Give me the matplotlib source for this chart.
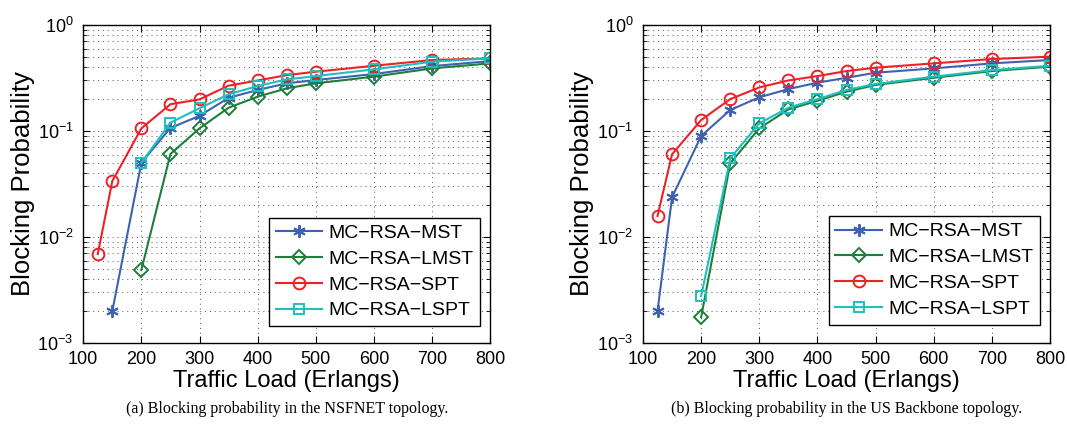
import matplotlib
matplotlib.use("Agg")
import matplotlib.pyplot as plt
import matplotlib.ticker as mticker
import numpy as np

# ── Data ──────────────────────────────────────────────────────────────────────
LOADS = [125, 150, 200, 250, 300, 350, 400, 450, 500, 600, 700, 800]

# (a) NSFNET
NSF_MST = [None, 0.0020, 0.0502, 0.107, 0.139, 0.206, 0.244, 0.282, 0.303, 0.345, 0.410, 0.457]
NSF_LMST = [None, None, 0.0049, 0.0607, 0.106, 0.166, 0.211, 0.253, 0.282, 0.326, 0.390, 0.435]
NSF_SPT = [0.0069, 0.0337, 0.106, 0.179, 0.199, 0.268, 0.300, 0.337, 0.363, 0.413, 0.468, 0.485]
NSF_LSPT = [None, None, 0.0502, 0.120, 0.164, 0.222, 0.266, 0.307, 0.330, 0.382, 0.451, 0.485]

# (b) US Backbone
USB_MST = [0.0020, 0.0237, 0.0897, 0.158, 0.208, 0.249, 0.286, 0.318, 0.355, 0.390, 0.435, 0.468]
USB_LMST = [None, None, 0.00175, 0.0495, 0.106, 0.160, 0.193, 0.235, 0.272, 0.318, 0.368, 0.405]
USB_SPT = [0.0158, 0.0603, 0.127, 0.200, 0.258, 0.300, 0.330, 0.368, 0.396, 0.435, 0.478, 0.503]
USB_LSPT = [None, None, 0.00277, 0.0552, 0.118, 0.166, 0.200, 0.244, 0.278, 0.326, 0.376, 0.413]

SERIES_NAMES = ["MC\u2212RSA\u2212MST", "MC\u2212RSA\u2212LMST", "MC\u2212RSA\u2212SPT", "MC\u2212RSA\u2212LSPT"]
CAPTIONS = ["(a) Blocking probability in the NSFNET topology.",
            "(b) Blocking probability in the US Backbone topology."]

# ── Style ─────────────────────────────────────────────────────────────────────
STYLES = [
    dict(color="#3e62b0", marker=(6, 2, 0), ms=9, mfc="#3e62b0"),
    dict(color="#1c7f3a", marker="D", ms=7, mfc="none"),
    dict(color="#ec2227", marker="o", ms=8.5, mfc="none"),
    dict(color="#20bfbf", marker="s", ms=7, mfc="none"),
]
plt.rcParams["font.family"] = ["Liberation Sans", "DejaVu Sans"]
plt.rcParams["mathtext.fontset"] = "custom"
plt.rcParams["mathtext.rm"] = "Liberation Sans"


def draw_panel(ax, data, legend_anchor):
    for vals, name, st in zip(data, SERIES_NAMES, STYLES):
        xs = [x for x, v in zip(LOADS, vals) if v is not None]
        ys = [v for v in vals if v is not None]
        ax.plot(xs, ys, label=name, lw=1.5, color=st["color"], marker=st["marker"],
                markersize=st["ms"], markerfacecolor=st["mfc"],
                markeredgecolor=st["color"], markeredgewidth=1.4)
    ax.set_yscale("log")
    ax.set_ylim(1e-3, 1)
    ax.set_xlim(100, 800)
    ax.set_xticks(np.arange(100, 801, 100))
    ax.yaxis.set_major_locator(mticker.LogLocator(base=10, numticks=10))
    ax.yaxis.set_minor_locator(mticker.LogLocator(base=10, subs=np.arange(2, 10), numticks=10))
    ax.yaxis.set_minor_formatter(mticker.NullFormatter())
    ax.grid(True, which="major", linestyle=(0, (1, 4)), color="#555555", lw=0.7)
    ax.grid(True, which="minor", axis="y", linestyle=(0, (1, 4)), color="#555555", lw=0.7)
    ax.tick_params(which="both", direction="in", top=True, right=True, labelsize=13)
    ax.tick_params(which="major", length=5)
    ax.tick_params(which="minor", length=3)
    ax.tick_params(axis="x", pad=6)
    ax.tick_params(axis="y", pad=7)
    ax.set_xlabel("Traffic Load (Erlangs)", fontsize=17, labelpad=1)
    ax.set_ylabel("Blocking Probability", fontsize=18.5, labelpad=2)
    for s in ax.spines.values():
        s.set_linewidth(1.0)
    leg = ax.legend(loc="lower right", bbox_to_anchor=legend_anchor, fontsize=14,
                    fancybox=False, framealpha=1, edgecolor="black",
                    handlelength=2.4, handletextpad=0.3, borderpad=0.35,
                    labelspacing=0.42, borderaxespad=0)
    leg.get_frame().set_linewidth(1.0)


fig = plt.figure(figsize=(10.67, 4.32), dpi=100)
ax1 = fig.add_axes([0.078, 0.206, 0.3815, 0.736])
ax2 = fig.add_axes([0.6026, 0.206, 0.3815, 0.736])

draw_panel(ax1, [NSF_MST, NSF_LMST, NSF_SPT, NSF_LSPT], (0.975, 0.053))
draw_panel(ax2, [USB_MST, USB_LMST, USB_SPT, USB_LSPT], (0.975, 0.058))

for ax, caption in zip([ax1, ax2], CAPTIONS):
    pos = ax.get_position()
    fig.text(pos.x0 + pos.width / 2, 0.053, caption, ha="center", va="center",
             fontsize=11.5, family=["Liberation Serif", "DejaVu Serif"])

fig.savefig("out.png", dpi=100)
